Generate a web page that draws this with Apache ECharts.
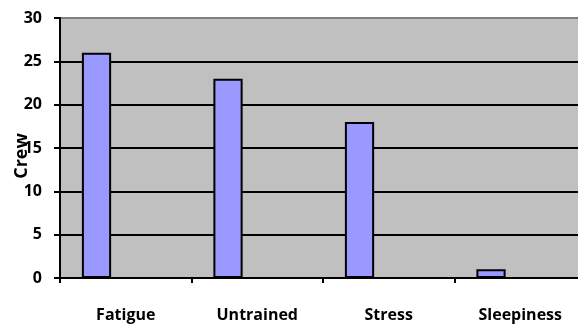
<!DOCTYPE html>
<html>
<head>
<meta charset="utf-8">
<script src="https://cdn.jsdelivr.net/npm/echarts@6/dist/echarts.min.js"></script>
<style>
  html, body { margin: 0; padding: 0; background: #ffffff; }
  #chart { width: 578px; height: 327px; }
</style>
</head>
<body>
<div id="chart"></div>
<script>
// Reported causes and the number of crew members affected
const categories = ['Fatigue', 'Untrained', 'Stress', 'Sleepiness'];
const crewCounts = [26, 23, 18, 1];
// Two further slots in each cluster are kept empty
const emptySlotA = [];
const emptySlotB = [];
const yTicks = { min: 0, max: 30, interval: 5 };

const FONT = '"Open Sans"';
const chart = echarts.init(document.getElementById('chart'), null, { renderer: 'canvas' });

chart.setOption({
  animation: false,
  backgroundColor: '#ffffff',
  grid: {
    left: 60,
    top: 18,
    bottom: 49,
    width: 526,
    containLabel: false,
    outerBoundsMode: 'none',
    show: true,
    backgroundColor: '#C0C0C0',
    borderColor: '#808080',
    borderWidth: 2
  },
  xAxis: {
    type: 'category',
    data: categories,
    boundaryGap: true,
    axisLine: { show: true, lineStyle: { color: '#000', width: 2 } },
    axisTick: { show: true, length: 5, lineStyle: { color: '#000', width: 2 } },
    axisLabel: {
      margin: 29,
      color: '#000',
      fontFamily: FONT,
      fontWeight: 'bold',
      fontSize: 16
    },
    splitLine: { show: false }
  },
  yAxis: {
    type: 'value',
    min: yTicks.min,
    max: yTicks.max,
    interval: yTicks.interval,
    name: 'Crew',
    nameLocation: 'middle',
    nameRotate: 90,
    nameGap: 29,
    nameMoveOverlap: false,
    nameTextStyle: {
      color: '#000',
      fontFamily: FONT,
      fontWeight: 'bold',
      fontSize: 18,
      padding: [0, 16, 0, 0]
    },
    axisLine: { show: true, lineStyle: { color: '#000', width: 2 } },
    axisTick: { show: true, length: 6, lineStyle: { color: '#000', width: 2 } },
    axisLabel: {
      margin: 18,
      color: '#000',
      fontFamily: FONT,
      fontWeight: 'bold',
      fontSize: 16
    },
    splitLine: {
      show: true,
      showMinLine: false,
      showMaxLine: false,
      lineStyle: { color: '#000', width: 2 }
    }
  },
  series: [
    {
      name: 'Crew',
      type: 'bar',
      data: crewCounts,
      barGap: '0%',
      barCategoryGap: '33.3%',
      itemStyle: { color: '#9999FF', borderColor: '#000', borderWidth: 2 }
    },
    { name: 'slotA', type: 'bar', data: emptySlotA },
    { name: 'slotB', type: 'bar', data: emptySlotB }
  ]
});
</script>
</body>
</html>
